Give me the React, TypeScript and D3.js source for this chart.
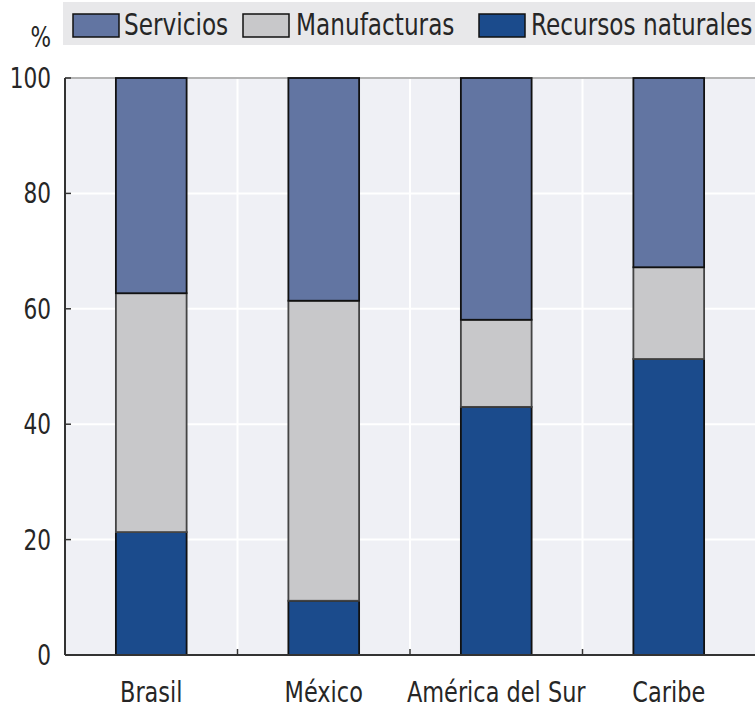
import React from "react";
import * as d3 from "d3";

const categories = ["Brasil", "México", "América del Sur", "Caribe"];
const recursos = [21.3, 9.4, 43.0, 51.3];
const manufacturas = [41.4, 52.0, 15.1, 15.9];
const servicios = [37.3, 38.6, 41.9, 32.8];
const seriesNames = ["Servicios", "Manufacturas", "Recursos naturales"];
const yTicks = [0, 20, 40, 60, 80, 100];

const colors: Record<string, string> = {
  Servicios: "#6275a2",
  Manufacturas: "#c8c8ca",
  "Recursos naturales": "#1b4b8c",
};

const font = "'DejaVu Sans Condensed', 'DejaVu Sans', sans-serif";
const squeeze = 0.86; // narrow the condensed font to look like the original

const W = 755;
const H = 707;
const margin = { top: 78, right: 0, bottom: 52, left: 65 };

function Label({ x, y, size, anchor, children }: any) {
  return (
    <g transform={`translate(${x},${y}) scale(${squeeze},1)`}>
      <text fontSize={size} textAnchor={anchor || "start"} fill="#262626">
        {children}
      </text>
    </g>
  );
}

export default function App() {
  const innerW = W - margin.left - margin.right;
  const innerH = H - margin.top - margin.bottom;

  const x = d3.scaleBand().domain(categories).range([0, innerW]).paddingInner(0.59).paddingOuter(0.295);
  const bands = d3.scaleBand().domain(categories).range([0, innerW]);
  const y = d3.scaleLinear().domain([0, 100]).range([innerH, 0]);

  const rows = categories.map((c, i) => ({
    cat: c,
    "Recursos naturales": recursos[i],
    Manufacturas: manufacturas[i],
    Servicios: servicios[i],
  }));
  const stack = d3.stack<any>().keys(["Recursos naturales", "Manufacturas", "Servicios"]);
  const layers = stack(rows);

  const legendPos = [
    { sx: 73, tx: 124 },
    { sx: 243, tx: 296 },
    { sx: 479, tx: 531 },
  ];

  return (
    <svg width={W} height={H} style={{ position: "absolute", left: 0, top: 0 }} fontFamily={font}>
      <rect width={W} height={H} fill="#ffffff" />
      {/* legend */}
      <rect x={63} y={2} width={W - 63} height={43} fill="#e8e8ea" />
      <Label x={51} y={47} size={28} anchor="end">%</Label>
      {seriesNames.map((s, i) => (
        <g key={s}>
          <rect x={legendPos[i].sx} y={14} width={46} height={23} fill={colors[s]} stroke="#111" strokeWidth={1.5} />
          <Label x={legendPos[i].tx} y={35} size={30}>{s}</Label>
        </g>
      ))}
      <g transform={`translate(${margin.left},${margin.top})`}>
        <rect width={innerW} height={innerH} fill="#eff0f5" />
        {yTicks.map((t) => (
          <line key={t} x1={0} x2={innerW} y1={y(t)} y2={y(t)} stroke="#ffffff" strokeWidth={2} />
        ))}
        {categories.slice(1).map((c) => (
          <line key={c} x1={bands(c)!} x2={bands(c)!} y1={0} y2={innerH} stroke="#ffffff" strokeWidth={2} />
        ))}
        <line x1={0} x2={innerW} y1={0} y2={0} stroke="#9a9a9a" strokeWidth={1.5} />
        {layers.map((layer) =>
          layer.map((d, i) => (
            <rect
              key={layer.key + i}
              x={x(categories[i])!}
              y={y(d[1])}
              width={x.bandwidth()}
              height={y(d[0]) - y(d[1])}
              fill={colors[layer.key]}
              stroke={layer.key === "Manufacturas" ? "#444" : "#111"}
              strokeWidth={1.8}
            />
          ))
        )}
        <line x1={0} x2={0} y1={0} y2={innerH} stroke="#333" strokeWidth={2} />
        <line x1={0} x2={innerW} y1={innerH} y2={innerH} stroke="#333" strokeWidth={2} />
        {yTicks.map((t) => (
          <g key={"t" + t}>
            <line x1={0} x2={6} y1={y(t)} y2={y(t)} stroke="#333" strokeWidth={1.5} />
            <Label x={-14} y={y(t) + 10} size={28} anchor="end">{t}</Label>
          </g>
        ))}
        {categories.slice(1).map((c) => (
          <line key={"xt" + c} x1={bands(c)!} x2={bands(c)!} y1={innerH} y2={innerH - 6} stroke="#333" strokeWidth={1.5} />
        ))}
        {categories.map((c) => (
          <Label key={"l" + c} x={x(c)! + x.bandwidth() / 2} y={innerH + 47} size={29} anchor="middle">
            {c}
          </Label>
        ))}
      </g>
    </svg>
  );
}
